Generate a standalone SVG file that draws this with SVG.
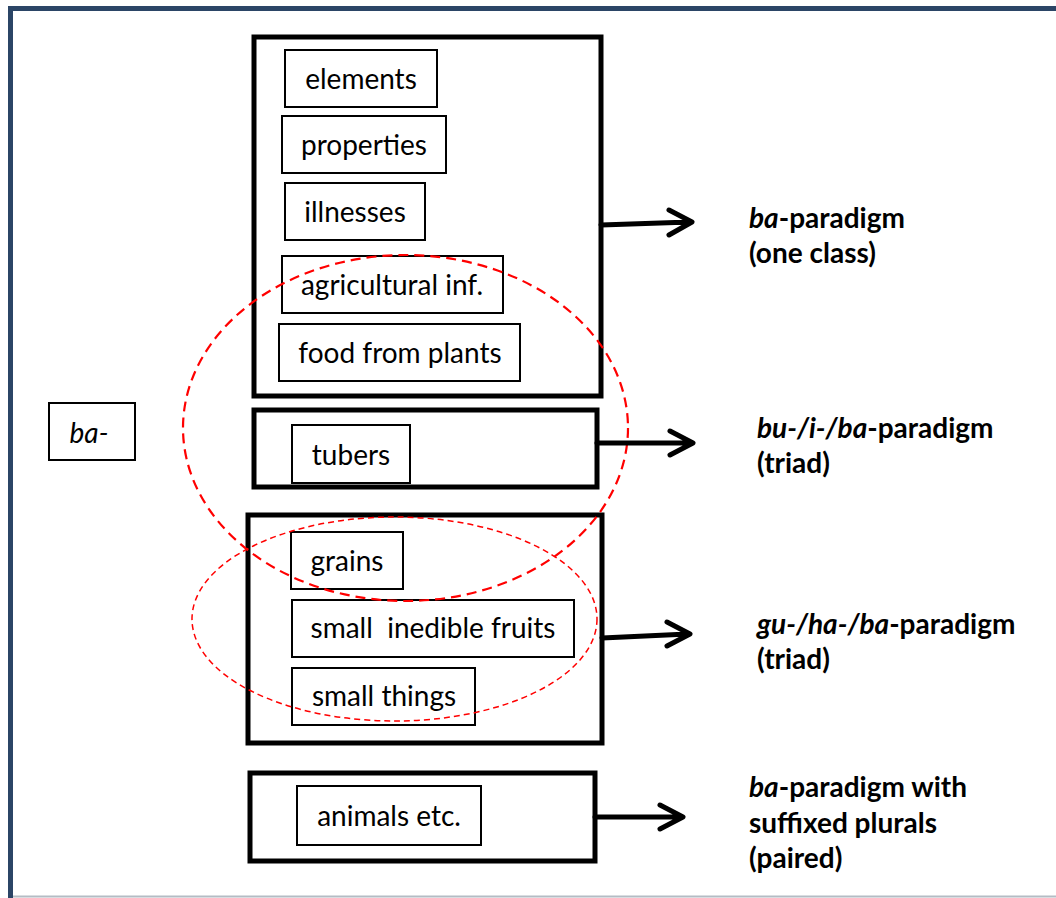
<svg xmlns="http://www.w3.org/2000/svg" width="1056" height="898" viewBox="0 0 1056 898">
  <style>
    .frame { fill: none; stroke: #2b4566; stroke-width: 5; }
    .group { fill: #ffffff; stroke: #000000; stroke-width: 5; }
    .item { fill: #ffffff; stroke: #000000; stroke-width: 2; }
    .label { font-family: Lato, "Liberation Sans", sans-serif; font-size: 28px; fill: #000000; text-anchor: middle; }
    .result { font-family: Lato, "Liberation Sans", sans-serif; font-size: 28px; font-weight: bold; fill: #000000; }
    .conn { fill: none; stroke: #000000; stroke-width: 5; stroke-linecap: round; stroke-linejoin: round; }
    .set { fill: none; stroke: #ff0000; }
  </style>

  <!-- page frame -->
  <rect x="0" y="0" width="1056" height="898" fill="#ffffff"/>
  <path class="frame" d="M10.5 898 V8.5 H1060"/>
  <line x1="13" y1="896.5" x2="1056" y2="896.5" stroke="#b4bcc4" stroke-width="2"/>

  <!-- prefix -->
  <g id="prefix">
    <rect class="item" x="49" y="403" width="86" height="57" stroke-width="1.5"/>
    <text class="label" x="89" y="443" font-style="italic">ba-</text>
  </g>

  <!-- group 1: one class -->
  <g id="group-one-class">
    <rect class="group" x="254" y="37" width="347" height="359"/>
    <g id="elements">
      <rect class="item" x="285" y="50" width="152" height="57"/>
      <text class="label" x="361" y="89">elements</text>
    </g>
    <g id="properties">
      <rect class="item" x="282" y="116" width="164" height="57"/>
      <text class="label" x="364" y="155">properties</text>
    </g>
    <g id="illnesses">
      <rect class="item" x="285" y="183" width="140" height="57"/>
      <text class="label" x="355" y="222">illnesses</text>
    </g>
    <g id="agricultural">
      <rect class="item" x="282" y="256" width="221" height="57"/>
      <text class="label" x="392" y="295">agricultural inf.</text>
    </g>
    <g id="food">
      <rect class="item" x="279" y="324" width="241" height="57"/>
      <text class="label" x="400" y="363">food from plants</text>
    </g>
  </g>

  <!-- group 2: triad bu-/i-/ba- -->
  <g id="group-tubers">
    <rect class="group" x="254" y="410" width="343" height="77"/>
    <g id="tubers">
      <rect class="item" x="292" y="425" width="118" height="58"/>
      <text class="label" x="351" y="465">tubers</text>
    </g>
  </g>

  <!-- group 3: triad gu-/ha-/ba- -->
  <g id="group-small">
    <rect class="group" x="248" y="515" width="354" height="228"/>
    <g id="grains">
      <rect class="item" x="291" y="532" width="112" height="57"/>
      <text class="label" x="347" y="571">grains</text>
    </g>
    <g id="fruits">
      <rect class="item" x="292" y="600" width="282" height="57"/>
      <text class="label" x="433" y="638" xml:space="preserve">small  inedible fruits</text>
    </g>
    <g id="things">
      <rect class="item" x="292" y="668" width="183" height="57"/>
      <text class="label" x="384" y="706">small things</text>
    </g>
  </g>

  <!-- group 4: paired -->
  <g id="group-animals">
    <rect class="group" x="250" y="773" width="345" height="88"/>
    <g id="animals">
      <rect class="item" x="297" y="786" width="184" height="59"/>
      <text class="label" x="389" y="826">animals etc.</text>
    </g>
  </g>

  <!-- overlapping sets -->
  <g id="sets">
    <ellipse class="set" cx="405.5" cy="428" rx="222.5" ry="173" stroke-width="2.2" stroke-dasharray="10 6"/>
    <ellipse class="set" cx="394.5" cy="619" rx="202.5" ry="102" stroke-width="1.5" stroke-dasharray="6 4"/>
  </g>

  <!-- connectors -->
  <g id="connectors">
    <path class="conn" d="M601 225 L690 222 M669 210 L692 222 L669 235"/>
    <path class="conn" d="M597 443 L691 443 M670 431 L693 443 L670 455"/>
    <path class="conn" d="M602 638 L688 634 M667 622 L690 634 L667 646"/>
    <path class="conn" d="M595 817 L681 817 M660 805 L683 817 L660 829"/>
  </g>

  <!-- paradigm labels -->
  <g id="result-one-class">
    <text class="result" x="749" y="228"><tspan font-style="italic">ba</tspan>-paradigm</text>
    <text class="result" x="749" y="263">(one class)</text>
  </g>
  <g id="result-bu">
    <text class="result" x="757" y="438"><tspan font-style="italic">bu-/i-/ba</tspan>-paradigm</text>
    <text class="result" x="757" y="473">(triad)</text>
  </g>
  <g id="result-gu">
    <text class="result" x="757" y="634"><tspan font-style="italic">gu-/ha-/ba</tspan>-paradigm</text>
    <text class="result" x="757" y="669">(triad)</text>
  </g>
  <g id="result-paired">
    <text class="result" x="749" y="797"><tspan font-style="italic">ba</tspan>-paradigm with</text>
    <text class="result" x="749" y="833">suffixed plurals</text>
    <text class="result" x="749" y="868">(paired)</text>
  </g>
</svg>
